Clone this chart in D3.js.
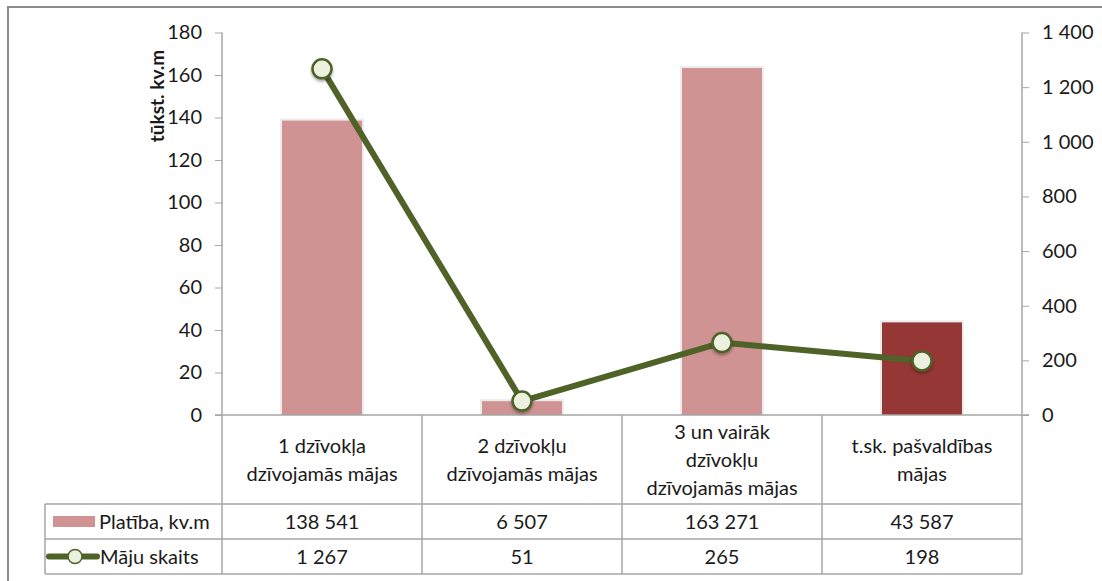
<!DOCTYPE html>
<html><head><meta charset="utf-8">
<script src="https://cdn.jsdelivr.net/npm/d3@7"></script>
<style>body{margin:0;background:#fff}svg{display:block}text{font-family:Lato,"Open Sans",sans-serif;fill:#1a1a1a}</style>
</head><body><svg id="c" width="1102" height="581"></svg>
<script>
const categories = [["1 dzīvokļa","dzīvojamās mājas"],["2 dzīvokļu","dzīvojamās mājas"],["3 un vairāk","dzīvokļu","dzīvojamās mājas"],["t.sk. pašvaldības","mājas"]];
const areaValues = [138541, 6507, 163271, 43587];
const houseCounts = [1267, 51, 265, 198];
const leftTicks = [0,20,40,60,80,100,120,140,160,180];
const rightTicks = [0,200,400,600,800,1000,1200,1400];
const seriesNames = ["Platība, kv.m","Māju skaits"];
const yTitle = "tūkst. kv.m";
const barColors = ["#d09393","#d09393","#d09393","#953735"];

const FS="20px";
const svg = d3.select("#c");
const L=222, R=1022, T=32.5, B=415;
const rowA=504, rowB=539, rowC=574, legL=45;
const fmt = v => d3.format(",")(v).replace(/,/g," ");

svg.append("rect").attr("x",8).attr("y",7).attr("width",1110).attr("height",600).attr("fill","none").attr("stroke","#8c8c8c").attr("stroke-width",2);

const x = d3.scaleBand().domain(d3.range(categories.length)).range([L,R]).paddingInner(0).paddingOuter(0);
const yL = d3.scaleLinear().domain([0,180]).range([B,T]);
const yR = d3.scaleLinear().domain([0,1400]).range([B,T]);
const grey="#a6a6a6";

// axes
const ax = svg.append("g").attr("transform",`translate(${L},0)`).call(d3.axisLeft(yL).tickValues(leftTicks).tickSize(7).tickPadding(13));
const ax2 = svg.append("g").attr("transform",`translate(${R},0)`).call(d3.axisRight(yR).tickValues(rightTicks).tickSize(7).tickPadding(13).tickFormat(fmt));
[ax,ax2].forEach(a=>{a.select(".domain").remove();a.selectAll("line").attr("stroke",grey);a.selectAll("text").style("font-size",FS).attr("fill","#1a1a1a").style("font-family",'Lato,sans-serif');});

// bars
const bw = x.bandwidth()*0.4;
const bars = svg.append("g");
bars.selectAll("rect.sh").data(areaValues).join("rect")
  .attr("x",(d,i)=>x(i)+x.bandwidth()/2-bw/2-2).attr("y",d=>yL(d/1000)-2)
  .attr("width",bw+4).attr("height",d=>B-yL(d/1000)+2).attr("fill","#ececec");
bars.selectAll("rect.b").data(areaValues).join("rect")
  .attr("x",(d,i)=>x(i)+x.bandwidth()/2-bw/2).attr("y",d=>yL(d/1000))
  .attr("width",bw).attr("height",d=>B-yL(d/1000)).attr("fill",(d,i)=>barColors[i]);

// table lines
const tg = svg.append("g").attr("stroke",grey).attr("stroke-width",1.5);
tg.append("line").attr("x1",L).attr("x2",L).attr("y1",T).attr("y2",rowC);
tg.append("line").attr("x1",R).attr("x2",R).attr("y1",T).attr("y2",rowC);
tg.append("line").attr("x1",L-7).attr("x2",R+7).attr("y1",B).attr("y2",B);
d3.range(1,categories.length).forEach(i=>tg.append("line").attr("x1",x(i)).attr("x2",x(i)).attr("y1",B).attr("y2",rowC));
[rowA,rowB,rowC].forEach(y=>tg.append("line").attr("x1",legL).attr("x2",R).attr("y1",y).attr("y2",y));
tg.append("line").attr("x1",legL).attr("x2",legL).attr("y1",rowA).attr("y2",rowC);

// category labels
categories.forEach((lines,i)=>{
  const cy=(B+rowA)/2, lh=28, y0=cy-(lines.length-1)*lh/2;
  lines.forEach((t,j)=>svg.append("text").attr("x",x(i)+x.bandwidth()/2).attr("y",y0+j*lh).attr("dy","0.35em").attr("text-anchor","middle").style("font-size",FS).text(t));
});
// values
areaValues.forEach((v,i)=>svg.append("text").attr("x",x(i)+x.bandwidth()/2).attr("y",(rowA+rowB)/2).attr("dy","0.35em").attr("text-anchor","middle").style("font-size",FS).text(fmt(v)));
houseCounts.forEach((v,i)=>svg.append("text").attr("x",x(i)+x.bandwidth()/2).attr("y",(rowB+rowC)/2).attr("dy","0.35em").attr("text-anchor","middle").style("font-size",FS).text(fmt(v)));

// line series
const green="#4f6228";
const cx = i=>x(i)+x.bandwidth()/2;
const defs=svg.append("defs");
const f=defs.append("filter").attr("id","sh").attr("x","-50%").attr("y","-50%").attr("width","200%").attr("height","200%");
f.append("feDropShadow").attr("dx",0).attr("dy",2).attr("stdDeviation",1.5).attr("flood-color","#000").attr("flood-opacity",0.35);
svg.append("path").datum(houseCounts).attr("fill","none").attr("stroke",green).attr("stroke-width",6).attr("stroke-linejoin","round")
  .attr("d",d3.line().x((d,i)=>cx(i)).y(d=>yR(d)));
svg.selectAll("circle.m").data(houseCounts).join("circle").attr("cx",(d,i)=>cx(i)).attr("cy",d=>yR(d)).attr("r",9.5)
  .attr("fill","#ebf1de").attr("stroke",green).attr("stroke-width",2.5).attr("filter","url(#sh)");

// legend
const ly1=(rowA+rowB)/2, ly2=(rowB+rowC)/2;
svg.append("rect").attr("x",53).attr("y",ly1-5.5).attr("width",42).attr("height",11).attr("fill",barColors[0]);
svg.append("text").attr("x",99).attr("y",ly1).attr("dy","0.35em").style("font-size",FS).text(seriesNames[0]);
svg.append("line").attr("x1",49).attr("x2",97).attr("y1",ly2).attr("y2",ly2).attr("stroke",green).attr("stroke-width",6).attr("stroke-linecap","round");
svg.append("circle").attr("cx",75).attr("cy",ly2).attr("r",7).attr("fill","#ebf1de").attr("stroke",green).attr("stroke-width",1.5);
svg.append("text").attr("x",100).attr("y",ly2).attr("dy","0.35em").style("font-size",FS).text(seriesNames[1]);

// y title
svg.append("text").attr("transform","translate(157,96) rotate(-90)").attr("text-anchor","middle").attr("dy","0.35em")
  .style("font-size","19px").style("font-weight","bold").attr("fill","#000").text(yTitle);
</script></body></html>
